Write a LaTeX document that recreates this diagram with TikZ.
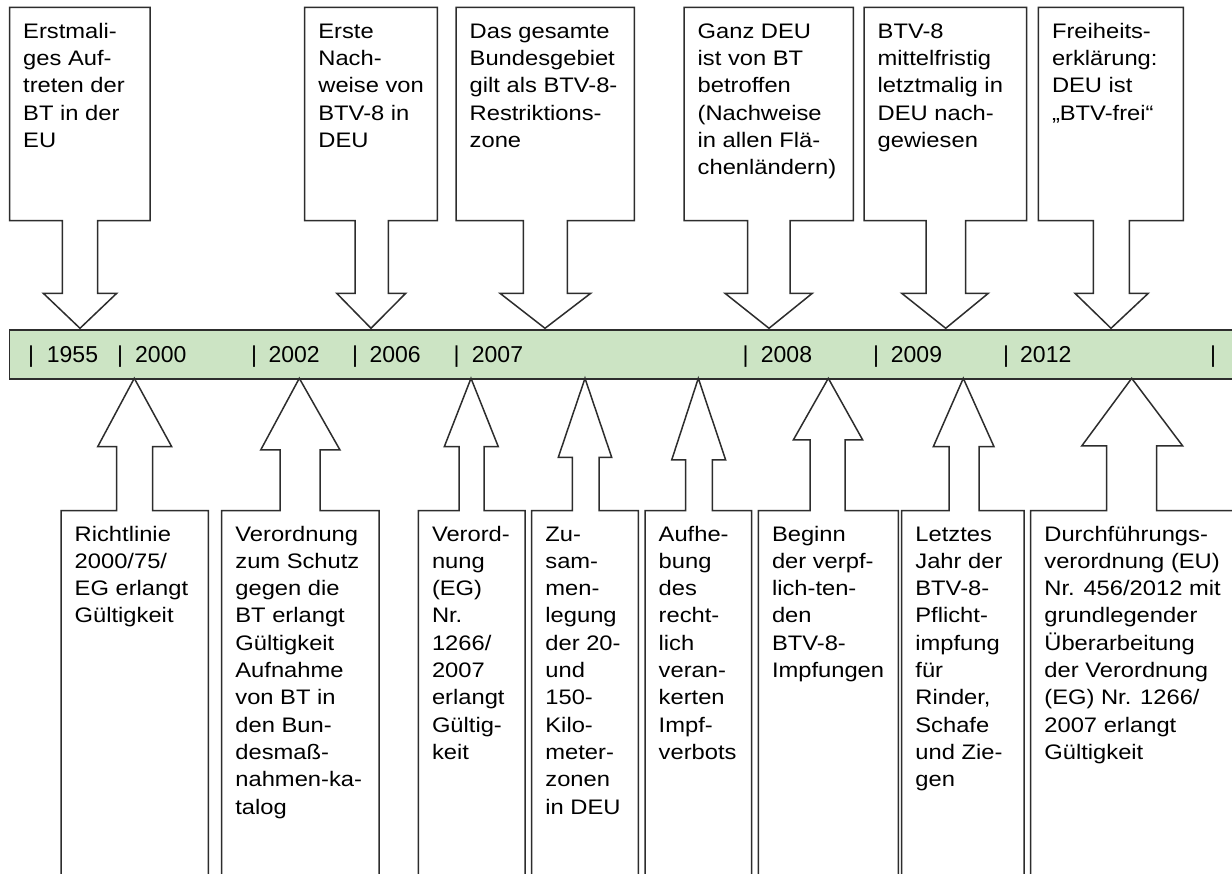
\documentclass[tikz,border=0pt]{standalone}
\usepackage{fontspec}
\setmainfont{Liberation Sans}
\newfontfamily\boxfam[FakeStretch=1.13]{Liberation Sans}
\definecolor{barfill}{RGB}{204,228,196}
\definecolor{edge}{RGB}{45,45,45}
\newcommand\bt[1]{\parbox[t]{260pt}{\raggedright #1}}
% down callout: bL bR sL sR wL wR tip
\newcommand\dcall[7]{\draw[callout] (#1,7.5) -- (#2,7.5) -- (#2,220.7) -- (#4,220.7) -- (#4,293.3) -- (#6,293.3) -- (#7,328.3) -- (#5,293.3) -- (#3,293.3) -- (#3,220.7) -- (#1,220.7) -- cycle;}
% up callout: bL bR sL sR wL wR wingY tip
\newcommand\ucall[8]{\draw[callout] (#1,920) -- (#1,510.7) -- (#3,510.7) -- (#3,#7) -- (#5,#7) -- (#8,378.3) -- (#6,#7) -- (#4,#7) -- (#4,510.7) -- (#2,510.7) -- (#2,920) -- cycle;}
\begin{document}
\begin{tikzpicture}[x=1pt,y=-1pt,
  callout/.style={draw=edge,fill=white,line width=1.5pt,line join=miter},
  bar/.style={draw=edge,fill=barfill,line width=1.5pt},
  boxtext/.style={anchor=base west,inner sep=0pt,font=\boxfam\fontsize{21}{27.3}\selectfont},
  yeartext/.style={anchor=base west,inner sep=0pt,font=\fontsize{23}{27}\selectfont},
  septext/.style={anchor=base,inner sep=0pt,font=\fontsize{23}{27}\selectfont}]
\useasboundingbox (0,0) rectangle (1232,874);
\clip (0,0) rectangle (1232,874);
\fill[white] (0,0) rectangle (1232,874);

% timeline bar
\path[bar] (9.3,330) rectangle (1260,379);
\node[septext] (s1) at (31,362.7) {|};
\node[septext] (s2) at (120,362.7) {|};
\node[septext] (s3) at (254,362.7) {|};
\node[septext] (s4) at (355,362.7) {|};
\node[septext] (s5) at (456.7,362.7) {|};
\node[septext] (s6) at (745.7,362.7) {|};
\node[septext] (s7) at (876,362.7) {|};
\node[septext] (s8) at (1006,362.7) {|};
\node[septext] (s9) at (1213,362.7) {|};
\node[yeartext] (y1955) at (46.7,362.7) {1955};
\node[yeartext] (y2000) at (135,362.7) {2000};
\node[yeartext] (y2002) at (268.3,362.7) {2002};
\node[yeartext] (y2006) at (369.3,362.7) {2006};
\node[yeartext] (y2007) at (471.7,362.7) {2007};
\node[yeartext] (y2008) at (760.7,362.7) {2008};
\node[yeartext] (y2009) at (890.7,362.7) {2009};
\node[yeartext] (y2012) at (1020,362.7) {2012};

% top callouts
\dcall{9.5}{150}{62.3}{97.7}{43.3}{116.7}{80}
\dcall{304.7}{437.3}{355}{388.3}{336.7}{405.7}{371}
\dcall{456}{634.3}{523.3}{567.3}{500}{590.7}{545}
\dcall{684}{853.3}{747.7}{790}{725}{812.3}{769}
\dcall{864}{1026.7}{926}{965.7}{901.7}{988.3}{945.7}
\dcall{1038.3}{1183.3}{1093.3}{1129.3}{1075}{1148.3}{1111}

\node[boxtext] (t1) at (23,38.3) {\bt{Erstmali-\\ges Auf-\\treten der\\BT in der\\EU}};
\node[boxtext] (t2) at (318.2,38.3) {\bt{Erste\\Nach-\\weise von\\BTV-8 in\\DEU}};
\node[boxtext] (t3) at (469.5,38.3) {\bt{Das gesamte\\Bundesgebiet\\gilt als BTV-8-\\Restriktions-\\zone}};
\node[boxtext] (t4) at (697.5,38.3) {\bt{Ganz DEU\\ist von BT\\betroffen\\(Nachweise\\in allen Flä-\\chenländern)}};
\node[boxtext] (t5) at (877.5,38.3) {\bt{BTV-8\\mittelfristig\\letztmalig in\\DEU nach-\\gewiesen}};
\node[boxtext] (t6) at (1051.8,38.3) {\bt{Freiheits-\\erklärung:\\DEU ist\\„BTV-frei“}};

% bottom callouts
\ucall{61}{208.3}{116.7}{152.7}{97.7}{171.7}{446.7}{134.3}
\ucall{221.7}{379}{280}{320}{260.7}{340}{450}{299.3}
\ucall{418.3}{525}{459}{484}{444.3}{498.3}{446.7}{471}
\ucall{531.7}{638.3}{572.3}{599}{558.3}{611.7}{457.3}{585}
\ucall{645}{751.7}{685.7}{712.3}{671.7}{725.7}{460}{698.3}
\ucall{758.3}{898.3}{810}{845}{793.3}{862.7}{440}{828.3}
\ucall{901.7}{1024}{949}{979}{933.3}{994}{446.7}{963.3}
\ucall{1030.7}{1270}{1106.7}{1156.7}{1081.7}{1182.7}{446}{1131.7}

\node[boxtext] (b1) at (74.5,541) {\bt{Richtlinie\\2000/75/\\EG erlangt\\Gültigkeit}};
\node[boxtext] (b2) at (235.2,541) {\bt{Verordnung\\zum Schutz\\gegen die\\BT erlangt\\Gültigkeit\\Aufnahme\\von BT in\\den Bun-\\desmaß-\\nahmen-ka-\\talog}};
\node[boxtext] (b3) at (431.8,541) {\bt{Verord-\\nung\\(EG)\\Nr.\\1266/\\2007\\erlangt\\Gültig-\\keit}};
\node[boxtext] (b4) at (545.2,541) {\bt{Zu-\\sam-\\men-\\legung\\der 20-\\und\\150-\\Kilo-\\meter-\\zonen\\in DEU}};
\node[boxtext] (b5) at (658.5,541) {\bt{Aufhe-\\bung\\des\\recht-\\lich\\veran-\\kerten\\Impf-\\verbots}};
\node[boxtext] (b6) at (771.8,541) {\bt{Beginn\\der verpf-\\lich-ten-\\den\\BTV-8-\\Impfungen}};
\node[boxtext] (b7) at (915.2,541) {\bt{Letztes\\Jahr der\\BTV-8-\\Pflicht-\\impfung\\für\\Rinder,\\Schafe\\und Zie-\\gen}};
\node[boxtext] (b8) at (1044.2,541) {\bt{Durchführungs-\\verordnung (EU)\\Nr. 456/2012 mit\\grundlegender\\Überarbeitung\\der Verordnung\\(EG) Nr. 1266/\\2007 erlangt\\Gültigkeit}};
\end{tikzpicture}
\end{document}
